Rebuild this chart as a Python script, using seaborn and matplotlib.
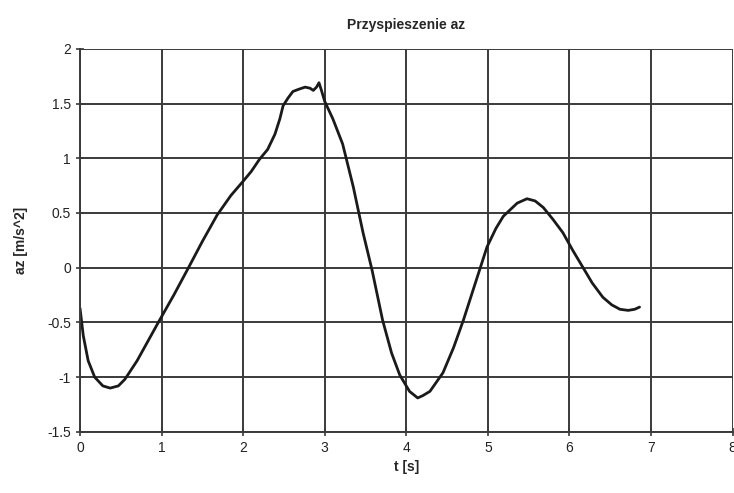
import matplotlib
matplotlib.use("Agg")
import numpy as np
import pandas as pd
import matplotlib.pyplot as plt
import seaborn as sns

# time [s] and acceleration az [m/s^2]
t = [0.00, 0.04, 0.10, 0.18, 0.28, 0.37, 0.47, 0.55, 0.70, 0.96, 1.15,
     1.33, 1.50, 1.68, 1.85, 2.00, 2.10, 2.20, 2.30, 2.39, 2.45, 2.49,
     2.55, 2.61, 2.68, 2.76, 2.82, 2.86, 2.90, 2.93, 2.96, 3.00, 3.10,
     3.22, 3.35, 3.47, 3.58, 3.71, 3.82, 3.92, 4.04, 4.14, 4.20, 4.29,
     4.45, 4.58, 4.70, 4.86, 4.99, 5.10, 5.19, 5.36, 5.48, 5.58, 5.68,
     5.80, 5.92, 6.04, 6.16, 6.28, 6.41, 6.52, 6.62, 6.72, 6.80, 6.86]
az = [-0.37, -0.62, -0.85, -1.00, -1.08, -1.10, -1.08, -1.02, -0.85, -0.50, -0.25,
      0.00, 0.24, 0.48, 0.66, 0.79, 0.88, 0.99, 1.08, 1.22, 1.36, 1.48,
      1.55, 1.61, 1.63, 1.65, 1.64, 1.62, 1.65, 1.69, 1.62, 1.52, 1.36,
      1.13, 0.74, 0.32, -0.02, -0.48, -0.78, -0.98, -1.13, -1.19, -1.17, -1.13,
      -0.96, -0.73, -0.48, -0.11, 0.19, 0.36, 0.47, 0.59, 0.63, 0.61, 0.55,
      0.44, 0.32, 0.16, 0.01, -0.14, -0.27, -0.34, -0.38, -0.39, -0.38, -0.36]

x_ticks = [0, 1, 2, 3, 4, 5, 6, 7, 8]
y_ticks = [-1.5, -1, -0.5, 0, 0.5, 1, 1.5, 2]
y_labels = ["-1.5", "-1", "-0.5", "0", "0.5", "1", "1.5", "2"]

df = pd.DataFrame({"t": t, "az": az})

sns.set_style("white")
plt.rcParams["font.family"] = ["Liberation Sans", "DejaVu Sans"]

fig = plt.figure(figsize=(7.34, 4.93), dpi=100)
ax = fig.add_axes([0.109, 0.124, 0.889, 0.777])

sns.lineplot(data=df, x="t", y="az", color="#1a1a1a", linewidth=2.0, ax=ax)

ax.set_xlim(0, 8)
ax.set_ylim(-1.5, 2)
ax.set_xticks(x_ticks)
ax.set_yticks(y_ticks)
ax.set_yticklabels(y_labels)
ax.grid(True, color="#3a3a3a", linewidth=1.4)
ax.set_axisbelow(True)
for side in ["top", "right"]:
    ax.spines[side].set_visible(False)
for side in ["left", "bottom"]:
    ax.spines[side].set_color("#3a3a3a")
    ax.spines[side].set_linewidth(1.4)

ax.tick_params(axis="both", direction="inout", length=6, width=1.2,
               color="#3a3a3a", labelsize=10, labelcolor="#222222",
               left=True, bottom=True)
ax.set_xlabel("t [s]", fontsize=10, fontweight="bold", labelpad=4)
ax.set_ylabel("az [m/s^2]", fontsize=10, fontweight="bold", labelpad=14)
ax.set_title("Przyspieszenie az", fontsize=10, fontweight="bold", pad=14)

fig.savefig("out.png", dpi=100)
